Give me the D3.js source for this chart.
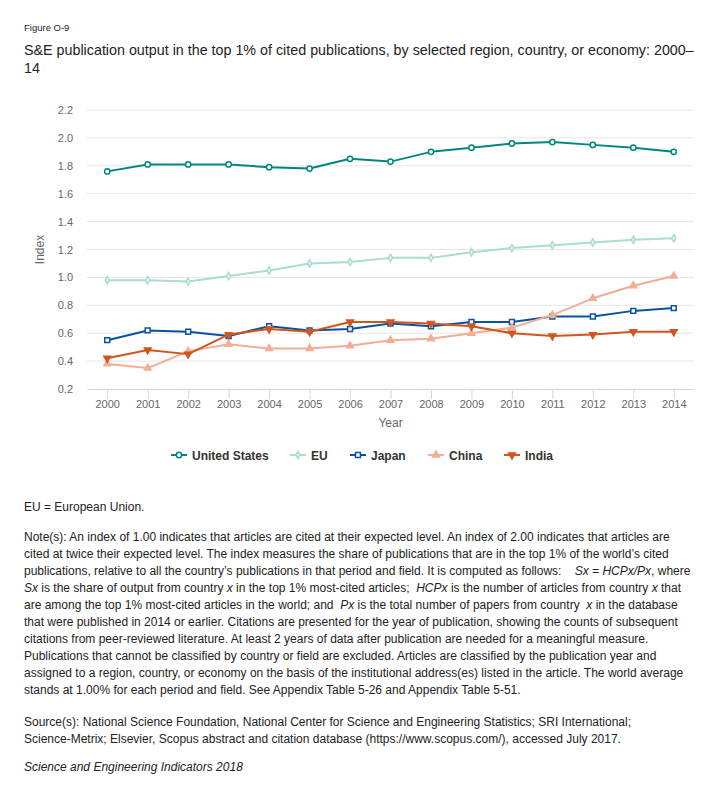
<!DOCTYPE html>
<html>
<head>
<meta charset="utf-8">
<script src="https://cdn.jsdelivr.net/npm/d3@7"></script>
<style>
  body { margin: 0; background: #fff; }
  svg { display: block; font-family: "Liberation Sans", Arial, sans-serif; }
</style>
</head>
<body>
<svg id="chart" width="724" height="791"></svg>
<script>
const years = [2000, 2001, 2002, 2003, 2004, 2005, 2006, 2007, 2008, 2009, 2010, 2011, 2012, 2013, 2014];
const unitedStates = [1.76, 1.81, 1.81, 1.81, 1.79, 1.78, 1.85, 1.83, 1.90, 1.93, 1.96, 1.97, 1.95, 1.93, 1.90];
const eu = [0.98, 0.98, 0.97, 1.01, 1.05, 1.10, 1.11, 1.14, 1.14, 1.18, 1.21, 1.23, 1.25, 1.27, 1.28];
const japan = [0.55, 0.62, 0.61, 0.58, 0.65, 0.62, 0.63, 0.67, 0.65, 0.68, 0.68, 0.72, 0.72, 0.76, 0.78];
const china = [0.38, 0.35, 0.47, 0.52, 0.49, 0.49, 0.51, 0.55, 0.56, 0.60, 0.64, 0.73, 0.85, 0.94, 1.01];
const india = [0.42, 0.48, 0.45, 0.59, 0.63, 0.61, 0.68, 0.68, 0.67, 0.65, 0.60, 0.58, 0.59, 0.61, 0.61];
const yTicks = [0.2, 0.4, 0.6, 0.8, 1.0, 1.2, 1.4, 1.6, 1.8, 2.0, 2.2];

const series = [
  { name: 'United States', values: unitedStates, color: '#00867f', symbol: d3.symbolCircle, size: 22, fill: '#fff' },
  { name: 'EU', values: eu, color: '#a9dcd5', symbol: d3.symbolDiamond, size: 16, fill: '#e3f4f1' },
  { name: 'Japan', values: japan, color: '#0a52a1', symbol: d3.symbolSquare, size: 24, fill: '#fff' },
  { name: 'China', values: china, color: '#f3ad95', symbol: d3.symbolTriangle, size: 20, fill: '#f3ad95' },
  { name: 'India', values: india, color: '#d0561f', symbol: d3.symbolTriangle, size: 20, fill: '#d0561f', flip: true }
];

const svg = d3.select('#chart');
svg.append('rect').attr('width', 724).attr('height', 791).attr('fill', '#fff');

// header
svg.append('text').attr('x', 24).attr('y', 31).attr('font-size', 9.5).attr('fill', '#222').text('Figure O-9');
const title = svg.append('text').attr('font-size', 14.3).attr('fill', '#222');
title.append('tspan').attr('x', 24).attr('y', 55)
  .text('S&E publication output in the top 1% of cited publications, by selected region, country, or economy: 2000\u2013');
title.append('tspan').attr('x', 24).attr('y', 73).text('14');

// plot
const plot = { left: 87, right: 694, top: 110, bottom: 389 };
const x = d3.scalePoint().domain(years).range([plot.left, plot.right]).padding(0.5);
const y = d3.scaleLinear().domain([0.2, 2.2]).range([plot.bottom, plot.top]);

svg.append('g')
  .selectAll('line')
  .data(yTicks.slice(1))
  .enter().append('line')
  .attr('x1', plot.left).attr('x2', plot.right)
  .attr('y1', d => y(d)).attr('y2', d => y(d))
  .attr('stroke', '#e6e6e6');

const yAxis = svg.append('g')
  .attr('transform', `translate(${plot.left},0)`)
  .call(d3.axisLeft(y).tickValues(yTicks).tickFormat(d3.format('.1f')).tickSize(0).tickPadding(14));
yAxis.select('.domain').remove();
yAxis.selectAll('text').attr('font-size', 11).attr('fill', '#666').attr('font-family', null);

const xAxis = svg.append('g')
  .attr('transform', `translate(0,${plot.bottom})`)
  .call(d3.axisBottom(x).tickSize(10).tickPadding(5).tickSizeOuter(0));
xAxis.select('.domain').attr('stroke', '#ccd6eb');
xAxis.selectAll('line').attr('stroke', '#ccd6eb');
xAxis.selectAll('text').attr('font-size', 11).attr('fill', '#666').attr('font-family', null).attr('dy', '0.35em').attr('y', 15);

svg.append('text')
  .attr('transform', `translate(44,${(plot.top + plot.bottom) / 2}) rotate(-90)`)
  .attr('text-anchor', 'middle').attr('font-size', 12).attr('fill', '#666').text('Index');
svg.append('text')
  .attr('x', (plot.left + plot.right) / 2).attr('y', 427)
  .attr('text-anchor', 'middle').attr('font-size', 12).attr('fill', '#666').text('Year');

const line = d3.line().x((d, i) => x(years[i])).y(d => y(d));
const marker = s => d3.symbol().type(s.symbol).size(s.size)();

series.forEach(s => {
  const g = svg.append('g');
  g.append('path').datum(s.values).attr('d', line)
    .attr('fill', 'none').attr('stroke', s.color).attr('stroke-width', 2).attr('stroke-linejoin', 'round');
  g.selectAll('path.pt')
    .data(s.values)
    .enter().append('path').attr('class', 'pt')
    .attr('d', marker(s))
    .attr('transform', (d, i) => `translate(${x(years[i])},${y(d)})${s.flip ? ' rotate(180)' : ''}`)
    .attr('fill', s.fill).attr('stroke', s.color).attr('stroke-width', 1.5);
});

// legend
const legendX = [171, 290, 350, 428, 504];
const legend = svg.append('g').attr('transform', 'translate(0,455)');
series.forEach((s, i) => {
  const g = legend.append('g').attr('transform', `translate(${legendX[i]},0)`);
  g.append('line').attr('x1', 0).attr('x2', 16).attr('stroke', s.color).attr('stroke-width', 2);
  g.append('path').attr('d', marker(s))
    .attr('transform', `translate(8,0)${s.flip ? ' rotate(180)' : ''}`)
    .attr('fill', s.fill).attr('stroke', s.color).attr('stroke-width', 1.5);
  g.append('text').attr('x', 21).attr('y', 4.5).attr('font-size', 12).attr('font-weight', 'bold')
    .attr('fill', '#333').text(s.name);
});

// notes: paragraphs of pre-wrapped lines, [text, italic]
const paragraphs = [
  [[['EU = European Union.']]],
  [
    [['Note(s): An index of 1.00 indicates that articles are cited at their expected level. An index of 2.00 indicates that articles are']],
    [['cited at twice their expected level. The index measures the share of publications that are in the top 1% of the world\u2019s cited']],
    [['publications, relative to all the country\u2019s publications in that period and field. It is computed as follows:    '], ['Sx = HCPx/Px', 1], [', where']],
    [['Sx', 1], [' is the share of output from country '], ['x', 1], [' in the top 1% most-cited articles;  '], ['HCPx', 1], [' is the number of articles from country '], ['x', 1], [' that']],
    [['are among the top 1% most-cited articles in the world; and  '], ['Px', 1], [' is the total number of papers from country  '], ['x', 1], [' in the database']],
    [['that were published in 2014 or earlier. Citations are presented for the year of publication, showing the counts of subsequent']],
    [['citations from peer-reviewed literature. At least 2 years of data after publication are needed for a meaningful measure.']],
    [['Publications that cannot be classified by country or field are excluded. Articles are classified by the publication year and']],
    [['assigned to a region, country, or economy on the basis of the institutional address(es) listed in the article. The world average']],
    [['stands at 1.00% for each period and field. See Appendix Table 5-26 and Appendix Table 5-51.']]
  ],
  [
    [['Source(s): National Science Foundation, National Center for Science and Engineering Statistics; SRI International;']],
    [['Science-Metrix; Elsevier, Scopus abstract and citation database (https://www.scopus.com/), accessed July 2017.']]
  ],
  [[['Science and Engineering Indicators 2018', 1]]]
];
const lineHeight = 17;
const paraGaps = [30, 32, 28];
const notes = svg.append('g').attr('font-size', 12).attr('fill', '#222');
let ty = 511;
paragraphs.forEach((p, k) => {
  p.forEach((segs, j) => {
    const t = notes.append('text').attr('x', 24).attr('y', ty).attr('xml:space', 'preserve');
    segs.forEach(([str, it]) => t.append('tspan').attr('font-style', it ? 'italic' : null).text(str));
    if (j < p.length - 1) ty += lineHeight;
  });
  ty += paraGaps[k] || 0;
});
</script>
</body>
</html>
